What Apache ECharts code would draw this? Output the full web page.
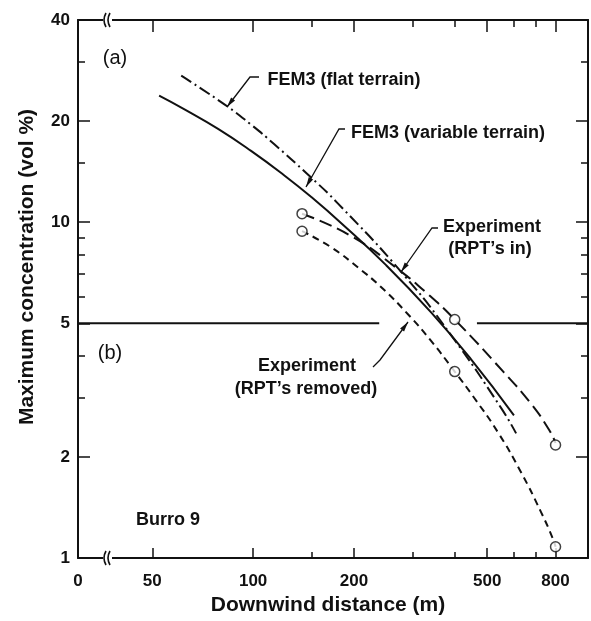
<!DOCTYPE html>
<html>
<head>
<meta charset="utf-8">
<script src="https://cdn.jsdelivr.net/npm/echarts@6/dist/echarts.min.js"></script>
<style>
html, body { margin: 0; background: #fff; }
#main { width: 591px; height: 621px; }
</style>
</head>
<body>
<div id="main"></div>
<script>
// tick positions and labels (x: "0" sits at the left edge, behind the axis break)
var xLabelVals = [30, 50, 100, 200, 500, 800];
var xLabelText = ['0', '50', '100', '200', '500', '800'];
var xMajor = [50, 100, 200, 500, 800];
var xMinor = [150, 300, 400, 600, 700];
var yLabelVals = [1, 2, 5, 10, 20, 40];
var yMajor = [2, 5, 10, 20];
var yMinor = [3, 4, 6, 7, 8, 9, 15, 30];

// curves: [distance m, concentration vol %]
var femVariable = [[52.4, 23.8], [62.2, 21.7], [78.6, 18.95], [98.6, 16.3], [123.7, 13.8], [148.9, 11.9],
    [183, 9.95], [249.5, 7.45], [340, 5.39], [447, 3.91], [601, 2.66]];
var femFlat = [[61, 27.3], [81.9, 22.47], [98.6, 19.52], [115.5, 17.09], [146, 13.84], [179, 11.38],
    [282, 6.96], [390, 4.61], [550, 2.8], [610, 2.35]];
var rptInLine = [[140, 10.6], [196, 9.1], [271, 7.24], [333, 6.1], [400, 5.13], [561, 3.57], [676, 2.88], [765, 2.41], [800, 2.2]];
var rptOutLine = [[140, 9.4], [171, 8.42], [206, 7.32], [241, 6.41], [290, 5.32], [340, 4.43], [400, 3.59],
    [457, 3.0], [538, 2.37], [631, 1.8], [724, 1.37], [786, 1.14], [800, 1.08]];
var rptInPts = [[140, 10.6], [400, 5.13], [800, 2.17]];
var rptOutPts = [[140, 9.4], [400, 3.59], [800, 1.08]];
// line splitting panel (a) from (b)
var dividerLeft = [[30, 5], [238, 5]];
var dividerRight = [[466, 5], [1000, 5]];

var FONT = '"Liberation Sans", Arial, Helvetica, sans-serif';
var black = '#111';

function xAx(pos, ticks, len, withLabels, withLine) {
    return {
        type: 'log', min: 30, max: 1000, position: pos,
        axisLine: { show: withLine, lineStyle: { color: black, width: 2 } },
        axisTick: { show: true, inside: true, length: len, customValues: ticks, lineStyle: { color: black, width: 1.5 } },
        axisLabel: withLabels ? {
            show: true, customValues: xLabelVals, margin: 15,
            color: black, fontFamily: FONT, fontWeight: 'bold', fontSize: 17,
            formatter: function (v) { return xLabelText[xLabelVals.indexOf(Math.round(v))]; }
        } : { show: false },
        splitLine: { show: false }
    };
}
function yAx(pos, ticks, len, withLabels, withLine) {
    return {
        type: 'log', min: 1, max: 40, position: pos,
        axisLine: { show: withLine, lineStyle: { color: black, width: 2 } },
        axisTick: { show: true, inside: true, length: len, customValues: ticks, lineStyle: { color: black, width: 1.5 } },
        axisLabel: withLabels ? {
            show: true, customValues: yLabelVals, margin: 8,
            color: black, fontFamily: FONT, fontWeight: 'bold', fontSize: 17
        } : { show: false },
        splitLine: { show: false }
    };
}

function arrow(pts) {
    var n = pts.length;
    var tip = pts[n - 1], prev = pts[n - 2];
    var dx = tip[0] - prev[0], dy = tip[1] - prev[1];
    var d = Math.sqrt(dx * dx + dy * dy);
    var ux = dx / d, uy = dy / d;
    var bx = tip[0] - ux * 10, by = tip[1] - uy * 10;
    return [
        { type: 'polyline', shape: { points: pts }, style: { stroke: black, lineWidth: 1.3, fill: null } },
        { type: 'polygon', shape: { points: [tip, [bx - uy * 2.5, by + ux * 2.5], [bx + uy * 2.5, by - ux * 2.5]] }, style: { fill: black } }
    ];
}
function label(text, x, y, size, weight) {
    return {
        type: 'text', x: x, y: y,
        style: { text: text, font: (weight || 'bold') + ' ' + size + 'px ' + FONT, fill: black, textAlign: 'center', textVerticalAlign: 'middle' }
    };
}
function axisBreak(y) {
    return [
        { type: 'rect', shape: { x: 103, y: y - 3, width: 9, height: 6 }, style: { fill: '#fff' }, z: 10 },
        { type: 'bezierCurve', shape: { x1: 106, y1: y - 7, x2: 106, y2: y + 7, cpx1: 102, cpy1: y }, style: { stroke: black, lineWidth: 1.6, fill: null }, z: 11 },
        { type: 'bezierCurve', shape: { x1: 110, y1: y - 7, x2: 110, y2: y + 7, cpx1: 106, cpy1: y }, style: { stroke: black, lineWidth: 1.6, fill: null }, z: 11 }
    ];
}

var graphics = [].concat(
    axisBreak(20), axisBreak(558),
    label('(a)', 115, 58, 20, 'normal'),
    label('(b)', 110, 353, 20, 'normal'),
    label('Burro 9', 168, 520, 18),
    label('FEM3 (flat terrain)', 344, 80, 18),
    label('FEM3 (variable terrain)', 448, 133, 18),
    label('Experiment', 492, 227, 18),
    label('(RPT\u2019s in)', 490, 249, 18),
    label('Experiment', 307, 366, 18),
    label('(RPT\u2019s removed)', 306, 389, 18),
    arrow([[259, 77], [250, 77], [227, 107]]),
    arrow([[345, 129], [339, 129], [306, 187]]),
    arrow([[438, 228], [432, 228], [401, 272]]),
    arrow([[373, 367], [380, 360], [408, 322]]),
    [{
        type: 'text', x: 27, y: 267, rotation: Math.PI / 2,
        style: { text: 'Maximum concentration (vol %)', font: 'bold 21px ' + FONT, fill: black, textAlign: 'center', textVerticalAlign: 'middle' }
    }]
);

function curve(data, type, z) {
    return {
        type: 'line', data: data, smooth: 0.5, symbol: 'none', z: z || 2,
        lineStyle: { color: black, width: 2, type: type }, silent: true
    };
}
function circles(data) {
    return {
        type: 'scatter', data: data, symbol: 'circle', symbolSize: 10, z: 5,
        itemStyle: { color: '#fff', borderColor: black, borderWidth: 1.5 }
    };
}

var myChart = echarts.init(document.getElementById('main'));
myChart.setOption({
    animation: false,
    backgroundColor: '#fff',
    grid: { left: 78, right: 3, top: 20, bottom: 63 },
    xAxis: [
        xAx('bottom', xMajor, 10, true, true),
        xAx('bottom', xMinor, 6, false, false),
        xAx('top', xMajor, 12, false, true),
        xAx('top', xMinor, 7, false, false)
    ],
    yAxis: [
        yAx('left', yMajor, 12, true, true),
        yAx('left', yMinor, 7, false, false),
        yAx('right', yMajor, 12, false, true),
        yAx('right', yMinor, 7, false, false)
    ],
    series: [
        curve(femVariable, 'solid'),
        curve(femFlat, [12, 4, 2, 4]),
        curve(rptInLine, [13, 6]),
        curve(rptOutLine, [7, 5]),
        curve(dividerLeft, 'solid'),
        curve(dividerRight, 'solid'),
        circles(rptInPts),
        circles(rptOutPts)
    ],
    graphic: graphics
});
// x-axis title through the axis itself
myChart.setOption({
    xAxis: [{
        name: 'Downwind distance (m)', nameLocation: 'middle', nameGap: 35,
        nameTextStyle: { color: black, fontFamily: FONT, fontWeight: 'bold', fontSize: 21, padding: [0, 10, 0, 0] }
    }]
});
</script>
</body>
</html>
